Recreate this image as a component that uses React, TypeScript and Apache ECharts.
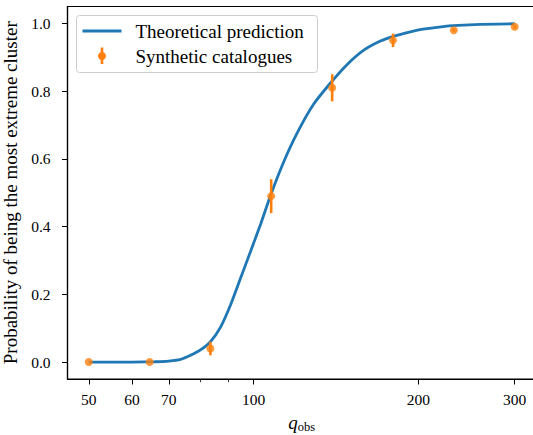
import React, { useEffect, useRef } from "react";
import * as echarts from "echarts";

// Theoretical prediction curve
const curveQ = [50, 60, 66, 70, 73.6, 76.7, 80, 83.4, 87.1, 90.8, 94.7, 98.7, 103, 107.4, 113.3, 120.1, 128.8, 139.2, 148.3, 159, 170.5, 180.3, 193.4, 204, 220, 236, 260, 300];
const curveP = [0, 0, 0.001, 0.003, 0.008, 0.02, 0.036, 0.06, 0.104, 0.169, 0.248, 0.326, 0.407, 0.492, 0.588, 0.676, 0.762, 0.83, 0.879, 0.921, 0.948, 0.962, 0.975, 0.983, 0.99, 0.994, 0.997, 0.999];

// Synthetic catalogues (points with error bars)
const pointQ = [50, 64.6, 83.4, 107.7, 139.2, 179.8, 232.2, 300];
const pointP = [0.0, 0.0, 0.04, 0.49, 0.81, 0.95, 0.98, 0.99];
const pointErr = [0.0, 0.0, 0.02, 0.05, 0.04, 0.02, 0.005, 0.005];

// Axis ticks
const xMajorTicks = [50, 60, 70, 100, 200, 300];
const xMinorTicks = [80, 90];
const yTicks = [0.0, 0.2, 0.4, 0.6, 0.8, 1.0];

const SERIF = '"Liberation Serif", "DejaVu Serif", serif';
const BLUE = "#1f77b4";
const ORANGE = "#ff7f0e";

export default function App() {
  const ref = useRef<HTMLDivElement>(null);

  useEffect(() => {
    if (!ref.current) return;
    const chart = echarts.init(ref.current, undefined, { renderer: "svg" });
    const lg = (v: number) => Math.log10(v);
    const xMin = 1.6601;
    const xMax = 2.516;

    const option: any = {
      animation: false,
      backgroundColor: "#fff",
      grid: {
        left: 67.5,
        top: 6.5,
        right: -3,
        bottom: 56,
        outerBoundsMode: "none",
        containLabel: false,
        show: true,
        borderColor: "#000",
        borderWidth: 1.2,
        backgroundColor: "transparent",
      },
      xAxis: [
        {
          type: "value",
          min: xMin,
          max: xMax,
          position: "bottom",
          splitLine: { show: false },
          axisLine: { show: true, onZero: false, lineStyle: { color: "#000", width: 1.2 } },
          axisTick: {
            show: true,
            inside: false,
            length: 5.5,
            lineStyle: { color: "#000", width: 1 },
            customValues: xMajorTicks.map(lg),
          },
          axisLabel: {
            show: true,
            margin: 12,
            color: "#000",
            fontFamily: SERIF,
            fontSize: 15.5,
            customValues: xMajorTicks.map(lg),
            formatter: (v: number) => String(Math.round(Math.pow(10, v))),
          },
          name: "{q|q}{s|obs}",
          nameLocation: "middle",
          nameGap: 32,
          nameTextStyle: {
            rich: {
              q: { fontFamily: SERIF, fontStyle: "italic", fontSize: 19, color: "#000" },
              s: { fontFamily: SERIF, fontSize: 12.5, color: "#000", padding: [9, 0, 0, 0] },
            },
          },
        },
        {
          type: "value",
          min: xMin,
          max: xMax,
          position: "bottom",
          splitLine: { show: false },
          axisLine: { show: false, onZero: false },
          axisTick: {
            show: true,
            inside: false,
            length: 3.2,
            lineStyle: { color: "#000", width: 0.8 },
            customValues: xMinorTicks.map(lg),
          },
          axisLabel: { show: false },
        },
      ],
      yAxis: {
        type: "value",
        min: -0.05,
        max: 1.05,
        splitLine: { show: false },
        axisLine: { show: true, onZero: false, lineStyle: { color: "#000", width: 1.2 } },
        axisTick: {
          show: true,
          inside: false,
          length: 5.5,
          lineStyle: { color: "#000", width: 1 },
          customValues: yTicks,
        },
        axisLabel: {
          margin: 17,
          color: "#000",
          fontFamily: SERIF,
          fontSize: 15.5,
          customValues: yTicks,
          formatter: (v: number) => v.toFixed(1),
        },
        name: "Probability of being the most extreme cluster",
        nameLocation: "middle",
        nameGap: 40,
        nameTextStyle: { fontFamily: SERIF, fontSize: 19, color: "#000" },
      },
      series: [
        {
          type: "line",
          name: "Theoretical prediction",
          data: curveQ.map((q, i) => [lg(q), curveP[i]]),
          showSymbol: false,
          smooth: 0.2,
          lineStyle: { color: BLUE, width: 2.8 },
          z: 2,
        },
        {
          type: "custom",
          name: "errors",
          data: pointQ.map((q, i) => [lg(q), pointP[i], pointErr[i]]),
          encode: { x: 0, y: 1 },
          renderItem: (params: any, api: any) => {
            const x = api.value(0);
            const y = api.value(1);
            const e = api.value(2);
            const p1 = api.coord([x, y - e]);
            const p2 = api.coord([x, y + e]);
            return {
              type: "line",
              shape: { x1: p1[0], y1: p1[1], x2: p2[0], y2: p2[1] },
              style: { stroke: ORANGE, lineWidth: 2.6 },
            };
          },
          z: 3,
        },
        {
          type: "scatter",
          name: "Synthetic catalogues",
          data: pointQ.map((q, i) => [lg(q), pointP[i]]),
          symbol: "circle",
          symbolSize: 8,
          itemStyle: { color: ORANGE },
          z: 4,
        },
      ],
      graphic: [
        {
          type: "group",
          left: 76,
          top: 15,
          z: 100,
          children: [
            {
              type: "rect",
              shape: { x: 0, y: 0, width: 241, height: 57, r: 3 },
              style: { fill: "rgba(255,255,255,0.85)", stroke: "#cccccc", lineWidth: 1 },
            },
            {
              type: "line",
              shape: { x1: 6, y1: 15.5, x2: 45, y2: 15.5 },
              style: { stroke: BLUE, lineWidth: 2.8 },
            },
            {
              type: "text",
              x: 59,
              y: 15.5,
              style: { text: "Theoretical prediction", fontFamily: SERIF, fontSize: 19, fill: "#000", verticalAlign: "middle" },
            },
            {
              type: "line",
              shape: { x1: 25.5, y1: 32, x2: 25.5, y2: 48.5 },
              style: { stroke: ORANGE, lineWidth: 2.6 },
            },
            {
              type: "circle",
              shape: { cx: 25.5, cy: 40.5, r: 4 },
              style: { fill: ORANGE },
            },
            {
              type: "text",
              x: 59,
              y: 40.5,
              style: { text: "Synthetic catalogues", fontFamily: SERIF, fontSize: 19, fill: "#000", verticalAlign: "middle" },
            },
          ],
        },
      ],
    };

    chart.setOption(option);
    return () => chart.dispose();
  }, []);

  return (
    <div
      ref={ref}
      style={{ position: "absolute", left: 0, top: 0, width: 533, height: 435, overflow: "hidden" }}
    />
  );
}
